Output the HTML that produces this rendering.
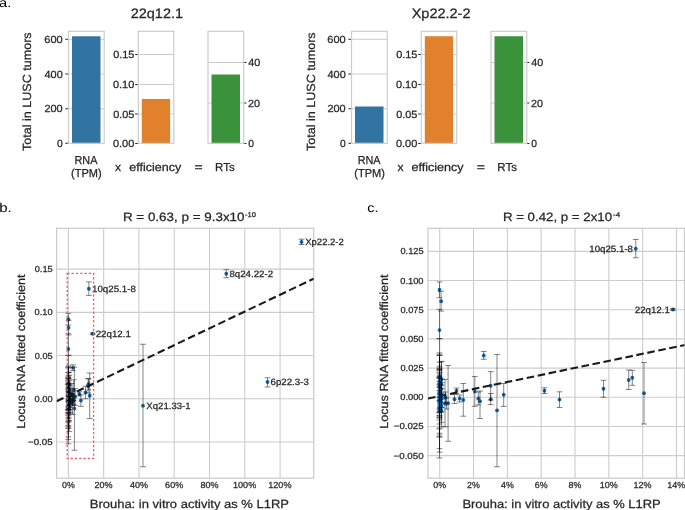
<!DOCTYPE html>
<html><head><meta charset="utf-8"><title>Figure</title>
<style>html,body{margin:0;padding:0;background:#fff;}body{width:685px;height:510px;overflow:hidden;font-family:"Liberation Sans",sans-serif;}svg{display:block;will-change:transform;}</style>
</head><body>
<svg width="685" height="510" viewBox="0 0 685 510" font-family="Liberation Sans, sans-serif" text-rendering="geometricPrecision"><text x="-0.92" y="6.80" font-size="12.71" fill="#000" stroke="#000" stroke-width="0" textLength="12.27" lengthAdjust="spacingAndGlyphs" >a.</text>
<text x="-0.77" y="211.90" font-size="12.71" fill="#000" stroke="#000" stroke-width="0" textLength="12.54" lengthAdjust="spacingAndGlyphs" >b.</text>
<text x="367.29" y="211.80" font-size="12.71" fill="#000" stroke="#000" stroke-width="0" textLength="11.23" lengthAdjust="spacingAndGlyphs" >c.</text>
<line x1="68.50" y1="39.30" x2="104.20" y2="39.30" stroke="#cccccc" stroke-width="1" />
<line x1="68.50" y1="74.00" x2="104.20" y2="74.00" stroke="#cccccc" stroke-width="1" />
<line x1="68.50" y1="108.75" x2="104.20" y2="108.75" stroke="#cccccc" stroke-width="1" />
<rect x="72.00" y="36.30" width="28.50" height="107.20" fill="#3274a1" />
<rect x="68.50" y="31.30" width="35.70" height="112.00" fill="none" stroke="#cccccc" stroke-width="1.2"/>
<line x1="65.40" y1="39.30" x2="67.90" y2="39.30" stroke="#262626" stroke-width="1" />
<text x="44.37" y="42.85" font-size="10.39" fill="#262626" stroke="#262626" stroke-width="0.25" textLength="18.36" lengthAdjust="spacingAndGlyphs" >600</text>
<line x1="65.40" y1="74.00" x2="67.90" y2="74.00" stroke="#262626" stroke-width="1" />
<text x="44.47" y="77.55" font-size="10.39" fill="#262626" stroke="#262626" stroke-width="0.25" textLength="18.25" lengthAdjust="spacingAndGlyphs" >400</text>
<line x1="65.40" y1="108.75" x2="67.90" y2="108.75" stroke="#262626" stroke-width="1" />
<text x="44.41" y="112.30" font-size="10.39" fill="#262626" stroke="#262626" stroke-width="0.25" textLength="18.32" lengthAdjust="spacingAndGlyphs" >200</text>
<line x1="65.40" y1="143.30" x2="67.90" y2="143.30" stroke="#262626" stroke-width="1" />
<text x="56.96" y="146.85" font-size="10.39" fill="#262626" stroke="#262626" stroke-width="0.25" textLength="5.75" lengthAdjust="spacingAndGlyphs" >0</text>
<line x1="138.30" y1="54.50" x2="173.80" y2="54.50" stroke="#cccccc" stroke-width="1" />
<line x1="138.30" y1="84.50" x2="173.80" y2="84.50" stroke="#cccccc" stroke-width="1" />
<line x1="138.30" y1="114.00" x2="173.80" y2="114.00" stroke="#cccccc" stroke-width="1" />
<rect x="141.80" y="99.00" width="28.30" height="44.50" fill="#e1812c" />
<rect x="138.30" y="31.30" width="35.50" height="112.00" fill="none" stroke="#cccccc" stroke-width="1.2"/>
<line x1="135.20" y1="54.50" x2="137.70" y2="54.50" stroke="#262626" stroke-width="1" />
<text x="113.16" y="58.05" font-size="10.39" fill="#262626" stroke="#262626" stroke-width="0.25" textLength="21.20" lengthAdjust="spacingAndGlyphs" >0.15</text>
<line x1="135.20" y1="84.50" x2="137.70" y2="84.50" stroke="#262626" stroke-width="1" />
<text x="112.95" y="88.05" font-size="10.39" fill="#262626" stroke="#262626" stroke-width="0.25" textLength="21.38" lengthAdjust="spacingAndGlyphs" >0.10</text>
<line x1="135.20" y1="114.00" x2="137.70" y2="114.00" stroke="#262626" stroke-width="1" />
<text x="113.16" y="117.55" font-size="10.39" fill="#262626" stroke="#262626" stroke-width="0.25" textLength="21.20" lengthAdjust="spacingAndGlyphs" >0.05</text>
<line x1="135.20" y1="143.50" x2="137.70" y2="143.50" stroke="#262626" stroke-width="1" />
<text x="112.95" y="147.05" font-size="10.39" fill="#262626" stroke="#262626" stroke-width="0.25" textLength="21.38" lengthAdjust="spacingAndGlyphs" >0.00</text>
<line x1="208.00" y1="62.50" x2="243.70" y2="62.50" stroke="#cccccc" stroke-width="1" />
<line x1="208.00" y1="103.00" x2="243.70" y2="103.00" stroke="#cccccc" stroke-width="1" />
<rect x="211.50" y="74.50" width="28.50" height="69.00" fill="#3a923a" />
<rect x="208.00" y="31.30" width="35.70" height="112.00" fill="none" stroke="#cccccc" stroke-width="1.2"/>
<line x1="244.30" y1="62.50" x2="246.40" y2="62.50" stroke="#262626" stroke-width="1" />
<text x="248.35" y="66.05" font-size="10.39" fill="#262626" stroke="#262626" stroke-width="0.25" textLength="12.01" lengthAdjust="spacingAndGlyphs" >40</text>
<line x1="244.30" y1="103.00" x2="246.40" y2="103.00" stroke="#262626" stroke-width="1" />
<text x="248.05" y="106.55" font-size="10.39" fill="#262626" stroke="#262626" stroke-width="0.25" textLength="12.07" lengthAdjust="spacingAndGlyphs" >20</text>
<line x1="244.30" y1="143.50" x2="246.40" y2="143.50" stroke="#262626" stroke-width="1" />
<text x="248.20" y="147.05" font-size="10.39" fill="#262626" stroke="#262626" stroke-width="0.25" textLength="5.75" lengthAdjust="spacingAndGlyphs" >0</text>
<text x="31.00" y="151.08" font-size="11.87" fill="#262626" stroke="#262626" stroke-width="0.25" textLength="118.73" lengthAdjust="spacingAndGlyphs" transform="rotate(-90 31.00 151.08)" >Total in LUSC tumors</text>
<line x1="351.50" y1="39.30" x2="387.20" y2="39.30" stroke="#cccccc" stroke-width="1" />
<line x1="351.50" y1="74.00" x2="387.20" y2="74.00" stroke="#cccccc" stroke-width="1" />
<line x1="351.50" y1="108.75" x2="387.20" y2="108.75" stroke="#cccccc" stroke-width="1" />
<rect x="355.00" y="106.50" width="28.50" height="37.00" fill="#3274a1" />
<rect x="351.50" y="31.30" width="35.70" height="112.00" fill="none" stroke="#cccccc" stroke-width="1.2"/>
<line x1="348.40" y1="39.30" x2="350.90" y2="39.30" stroke="#262626" stroke-width="1" />
<text x="327.37" y="42.85" font-size="10.39" fill="#262626" stroke="#262626" stroke-width="0.25" textLength="18.36" lengthAdjust="spacingAndGlyphs" >600</text>
<line x1="348.40" y1="74.00" x2="350.90" y2="74.00" stroke="#262626" stroke-width="1" />
<text x="327.47" y="77.55" font-size="10.39" fill="#262626" stroke="#262626" stroke-width="0.25" textLength="18.25" lengthAdjust="spacingAndGlyphs" >400</text>
<line x1="348.40" y1="108.75" x2="350.90" y2="108.75" stroke="#262626" stroke-width="1" />
<text x="327.41" y="112.30" font-size="10.39" fill="#262626" stroke="#262626" stroke-width="0.25" textLength="18.32" lengthAdjust="spacingAndGlyphs" >200</text>
<line x1="348.40" y1="143.30" x2="350.90" y2="143.30" stroke="#262626" stroke-width="1" />
<text x="339.96" y="146.85" font-size="10.39" fill="#262626" stroke="#262626" stroke-width="0.25" textLength="5.75" lengthAdjust="spacingAndGlyphs" >0</text>
<line x1="421.30" y1="54.50" x2="456.80" y2="54.50" stroke="#cccccc" stroke-width="1" />
<line x1="421.30" y1="84.50" x2="456.80" y2="84.50" stroke="#cccccc" stroke-width="1" />
<line x1="421.30" y1="114.00" x2="456.80" y2="114.00" stroke="#cccccc" stroke-width="1" />
<rect x="424.80" y="36.25" width="28.30" height="107.25" fill="#e1812c" />
<rect x="421.30" y="31.30" width="35.50" height="112.00" fill="none" stroke="#cccccc" stroke-width="1.2"/>
<line x1="418.20" y1="54.50" x2="420.70" y2="54.50" stroke="#262626" stroke-width="1" />
<text x="396.16" y="58.05" font-size="10.39" fill="#262626" stroke="#262626" stroke-width="0.25" textLength="21.20" lengthAdjust="spacingAndGlyphs" >0.15</text>
<line x1="418.20" y1="84.50" x2="420.70" y2="84.50" stroke="#262626" stroke-width="1" />
<text x="395.95" y="88.05" font-size="10.39" fill="#262626" stroke="#262626" stroke-width="0.25" textLength="21.38" lengthAdjust="spacingAndGlyphs" >0.10</text>
<line x1="418.20" y1="114.00" x2="420.70" y2="114.00" stroke="#262626" stroke-width="1" />
<text x="396.16" y="117.55" font-size="10.39" fill="#262626" stroke="#262626" stroke-width="0.25" textLength="21.20" lengthAdjust="spacingAndGlyphs" >0.05</text>
<line x1="418.20" y1="143.50" x2="420.70" y2="143.50" stroke="#262626" stroke-width="1" />
<text x="395.95" y="147.05" font-size="10.39" fill="#262626" stroke="#262626" stroke-width="0.25" textLength="21.38" lengthAdjust="spacingAndGlyphs" >0.00</text>
<line x1="491.00" y1="62.50" x2="526.70" y2="62.50" stroke="#cccccc" stroke-width="1" />
<line x1="491.00" y1="103.00" x2="526.70" y2="103.00" stroke="#cccccc" stroke-width="1" />
<rect x="494.50" y="36.25" width="28.50" height="107.25" fill="#3a923a" />
<rect x="491.00" y="31.30" width="35.70" height="112.00" fill="none" stroke="#cccccc" stroke-width="1.2"/>
<line x1="527.30" y1="62.50" x2="529.40" y2="62.50" stroke="#262626" stroke-width="1" />
<text x="531.35" y="66.05" font-size="10.39" fill="#262626" stroke="#262626" stroke-width="0.25" textLength="12.01" lengthAdjust="spacingAndGlyphs" >40</text>
<line x1="527.30" y1="103.00" x2="529.40" y2="103.00" stroke="#262626" stroke-width="1" />
<text x="531.05" y="106.55" font-size="10.39" fill="#262626" stroke="#262626" stroke-width="0.25" textLength="12.07" lengthAdjust="spacingAndGlyphs" >20</text>
<line x1="527.30" y1="143.50" x2="529.40" y2="143.50" stroke="#262626" stroke-width="1" />
<text x="531.20" y="147.05" font-size="10.39" fill="#262626" stroke="#262626" stroke-width="0.25" textLength="5.75" lengthAdjust="spacingAndGlyphs" >0</text>
<text x="315.30" y="151.08" font-size="11.87" fill="#262626" stroke="#262626" stroke-width="0.25" textLength="118.73" lengthAdjust="spacingAndGlyphs" transform="rotate(-90 315.30 151.08)" >Total in LUSC tumors</text>
<text x="130.77" y="18.00" font-size="13.67" fill="#262626" stroke="#262626" stroke-width="0.25" textLength="52.23" lengthAdjust="spacingAndGlyphs" >22q12.1</text>
<text x="411.67" y="18.00" font-size="13.67" fill="#262626" stroke="#262626" stroke-width="0.25" textLength="58.86" lengthAdjust="spacingAndGlyphs" >Xp22.2-2</text>
<text x="74.50" y="163.80" font-size="11.55" fill="#262626" stroke="#262626" stroke-width="0.25" textLength="22.94" lengthAdjust="spacingAndGlyphs" >RNA</text>
<text x="71.08" y="177.00" font-size="11.55" fill="#262626" stroke="#262626" stroke-width="0.25" textLength="30.64" lengthAdjust="spacingAndGlyphs" >(TPM)</text>
<text x="115.06" y="171.00" font-size="11.55" fill="#262626" stroke="#262626" stroke-width="0.25" textLength="6.05" lengthAdjust="spacingAndGlyphs" >x</text>
<text x="129.17" y="171.00" font-size="11.55" fill="#262626" stroke="#262626" stroke-width="0.25" textLength="52.12" lengthAdjust="spacingAndGlyphs" >efficiency</text>
<text x="194.51" y="171.00" font-size="11.55" fill="#262626" stroke="#262626" stroke-width="0.25" textLength="8.20" lengthAdjust="spacingAndGlyphs" >=</text>
<text x="215.12" y="171.00" font-size="11.55" fill="#262626" stroke="#262626" stroke-width="0.25" textLength="19.57" lengthAdjust="spacingAndGlyphs" >RTs</text>
<text x="357.70" y="163.80" font-size="11.55" fill="#262626" stroke="#262626" stroke-width="0.25" textLength="22.94" lengthAdjust="spacingAndGlyphs" >RNA</text>
<text x="354.28" y="177.00" font-size="11.55" fill="#262626" stroke="#262626" stroke-width="0.25" textLength="30.64" lengthAdjust="spacingAndGlyphs" >(TPM)</text>
<text x="397.56" y="171.00" font-size="11.55" fill="#262626" stroke="#262626" stroke-width="0.25" textLength="6.05" lengthAdjust="spacingAndGlyphs" >x</text>
<text x="411.47" y="171.00" font-size="11.55" fill="#262626" stroke="#262626" stroke-width="0.25" textLength="52.12" lengthAdjust="spacingAndGlyphs" >efficiency</text>
<text x="476.71" y="171.00" font-size="11.55" fill="#262626" stroke="#262626" stroke-width="0.25" textLength="8.20" lengthAdjust="spacingAndGlyphs" >=</text>
<text x="497.32" y="171.00" font-size="11.55" fill="#262626" stroke="#262626" stroke-width="0.25" textLength="19.57" lengthAdjust="spacingAndGlyphs" >RTs</text>
<clipPath id="clipb"><rect x="56.6" y="228.3" width="257.09999999999997" height="249.89999999999998"/></clipPath>
<line x1="68.40" y1="228.30" x2="68.40" y2="478.20" stroke="#cccccc" stroke-width="1.1" />
<text x="62.01" y="488.40" font-size="8.75" fill="#262626" stroke="#262626" stroke-width="0.25" textLength="12.75" lengthAdjust="spacingAndGlyphs" >0%</text>
<line x1="103.68" y1="228.30" x2="103.68" y2="478.20" stroke="#cccccc" stroke-width="1.1" />
<text x="94.59" y="488.40" font-size="8.75" fill="#262626" stroke="#262626" stroke-width="0.25" textLength="18.05" lengthAdjust="spacingAndGlyphs" >20%</text>
<line x1="138.96" y1="228.30" x2="138.96" y2="478.20" stroke="#cccccc" stroke-width="1.1" />
<text x="130.01" y="488.40" font-size="8.75" fill="#262626" stroke="#262626" stroke-width="0.25" textLength="18.01" lengthAdjust="spacingAndGlyphs" >40%</text>
<line x1="174.24" y1="228.30" x2="174.24" y2="478.20" stroke="#cccccc" stroke-width="1.1" />
<text x="165.13" y="488.40" font-size="8.75" fill="#262626" stroke="#262626" stroke-width="0.25" textLength="18.09" lengthAdjust="spacingAndGlyphs" >60%</text>
<line x1="209.52" y1="228.30" x2="209.52" y2="478.20" stroke="#cccccc" stroke-width="1.1" />
<text x="200.47" y="488.40" font-size="8.75" fill="#262626" stroke="#262626" stroke-width="0.25" textLength="18.03" lengthAdjust="spacingAndGlyphs" >80%</text>
<line x1="244.80" y1="228.30" x2="244.80" y2="478.20" stroke="#cccccc" stroke-width="1.1" />
<text x="233.00" y="488.40" font-size="8.75" fill="#262626" stroke="#262626" stroke-width="0.25" textLength="23.24" lengthAdjust="spacingAndGlyphs" >100%</text>
<line x1="280.08" y1="228.30" x2="280.08" y2="478.20" stroke="#cccccc" stroke-width="1.1" />
<text x="268.28" y="488.40" font-size="8.75" fill="#262626" stroke="#262626" stroke-width="0.25" textLength="23.24" lengthAdjust="spacingAndGlyphs" >120%</text>
<line x1="56.60" y1="442.03" x2="313.70" y2="442.03" stroke="#cccccc" stroke-width="1.1" />
<text x="28.03" y="445.03" font-size="8.75" fill="#262626" stroke="#262626" stroke-width="0.25" textLength="24.57" lengthAdjust="spacingAndGlyphs" >−0.05</text>
<line x1="56.60" y1="398.80" x2="313.70" y2="398.80" stroke="#cccccc" stroke-width="1.1" />
<text x="34.56" y="401.80" font-size="8.75" fill="#262626" stroke="#262626" stroke-width="0.25" textLength="18.00" lengthAdjust="spacingAndGlyphs" >0.00</text>
<line x1="56.60" y1="355.57" x2="313.70" y2="355.57" stroke="#cccccc" stroke-width="1.1" />
<text x="34.74" y="358.57" font-size="8.75" fill="#262626" stroke="#262626" stroke-width="0.25" textLength="17.85" lengthAdjust="spacingAndGlyphs" >0.05</text>
<line x1="56.60" y1="312.34" x2="313.70" y2="312.34" stroke="#cccccc" stroke-width="1.1" />
<text x="34.56" y="315.34" font-size="8.75" fill="#262626" stroke="#262626" stroke-width="0.25" textLength="18.00" lengthAdjust="spacingAndGlyphs" >0.10</text>
<line x1="56.60" y1="269.11" x2="313.70" y2="269.11" stroke="#cccccc" stroke-width="1.1" />
<text x="34.74" y="272.11" font-size="8.75" fill="#262626" stroke="#262626" stroke-width="0.25" textLength="17.85" lengthAdjust="spacingAndGlyphs" >0.15</text>
<rect x="56.6" y="228.3" width="257.09999999999997" height="249.89999999999998" fill="none" stroke="#cccccc" stroke-width="1.25"/>
<g clip-path="url(#clipb)">
<circle cx="68.38" cy="319.18" r="1.95" fill="#1f6fb0"/>
<circle cx="68.55" cy="327.70" r="1.95" fill="#1f6fb0"/>
<circle cx="68.38" cy="349.04" r="1.95" fill="#1f6fb0"/>
<circle cx="72.99" cy="367.85" r="1.95" fill="#1f6fb0"/>
<circle cx="70.15" cy="394.00" r="1.95" fill="#1f6fb0"/>
<circle cx="69.94" cy="400.22" r="1.95" fill="#1f6fb0"/>
<circle cx="70.49" cy="399.70" r="1.95" fill="#1f6fb0"/>
<circle cx="70.86" cy="400.74" r="1.95" fill="#1f6fb0"/>
<circle cx="72.06" cy="394.52" r="1.95" fill="#1f6fb0"/>
<circle cx="72.43" cy="399.70" r="1.95" fill="#1f6fb0"/>
<circle cx="72.60" cy="401.70" r="1.95" fill="#1f6fb0"/>
<circle cx="73.72" cy="390.30" r="1.95" fill="#1f6fb0"/>
<circle cx="73.72" cy="400.30" r="1.95" fill="#1f6fb0"/>
<circle cx="74.38" cy="408.52" r="1.95" fill="#1f6fb0"/>
<circle cx="75.07" cy="396.89" r="1.95" fill="#1f6fb0"/>
<circle cx="79.32" cy="393.93" r="1.95" fill="#1f6fb0"/>
<circle cx="80.89" cy="400.52" r="1.95" fill="#1f6fb0"/>
<circle cx="85.48" cy="392.52" r="1.95" fill="#1f6fb0"/>
<circle cx="88.11" cy="386.00" r="1.95" fill="#1f6fb0"/>
<circle cx="88.49" cy="384.30" r="1.95" fill="#1f6fb0"/>
<circle cx="89.71" cy="395.81" r="1.95" fill="#1f6fb0"/>
<circle cx="88.85" cy="288.78" r="1.95" fill="#1f6fb0"/>
<circle cx="92.73" cy="333.78" r="1.95" fill="#1f6fb0"/>
<circle cx="68.95" cy="403.41" r="1.95" fill="#1f6fb0"/>
<circle cx="69.28" cy="403.26" r="1.95" fill="#1f6fb0"/>
<circle cx="69.11" cy="403.48" r="1.95" fill="#1f6fb0"/>
<circle cx="69.00" cy="398.96" r="1.95" fill="#1f6fb0"/>
<circle cx="301.50" cy="242.00" r="1.95" fill="#1f6fb0"/>
<circle cx="226.30" cy="273.70" r="1.95" fill="#1f6fb0"/>
<circle cx="267.50" cy="382.00" r="1.95" fill="#1f6fb0"/>
<circle cx="143.00" cy="405.75" r="1.95" fill="#1f6fb0"/>
<circle cx="68.38" cy="383.24" r="1.95" fill="#1f6fb0"/>
<circle cx="68.38" cy="384.53" r="1.95" fill="#1f6fb0"/>
<circle cx="68.38" cy="388.42" r="1.95" fill="#1f6fb0"/>
<circle cx="68.38" cy="391.36" r="1.95" fill="#1f6fb0"/>
<circle cx="68.38" cy="393.61" r="1.95" fill="#1f6fb0"/>
<circle cx="68.38" cy="395.34" r="1.95" fill="#1f6fb0"/>
<circle cx="68.38" cy="396.21" r="1.95" fill="#1f6fb0"/>
<circle cx="68.38" cy="397.07" r="1.95" fill="#1f6fb0"/>
<circle cx="68.38" cy="397.94" r="1.95" fill="#1f6fb0"/>
<circle cx="68.38" cy="398.80" r="1.95" fill="#1f6fb0"/>
<circle cx="68.38" cy="399.66" r="1.95" fill="#1f6fb0"/>
<circle cx="68.38" cy="400.53" r="1.95" fill="#1f6fb0"/>
<circle cx="68.38" cy="401.39" r="1.95" fill="#1f6fb0"/>
<circle cx="68.38" cy="402.26" r="1.95" fill="#1f6fb0"/>
<circle cx="68.38" cy="403.12" r="1.95" fill="#1f6fb0"/>
<circle cx="68.38" cy="403.99" r="1.95" fill="#1f6fb0"/>
<circle cx="68.38" cy="405.72" r="1.95" fill="#1f6fb0"/>
<circle cx="68.38" cy="406.32" r="1.95" fill="#1f6fb0"/>
<circle cx="68.38" cy="407.45" r="1.95" fill="#1f6fb0"/>
<circle cx="68.38" cy="409.18" r="1.95" fill="#1f6fb0"/>
<circle cx="68.38" cy="390.15" r="1.95" fill="#1f6fb0"/>
<circle cx="68.38" cy="386.70" r="1.95" fill="#1f6fb0"/>
<circle cx="68.58" cy="385.83" r="1.95" fill="#1f6fb0"/>
<circle cx="68.58" cy="392.75" r="1.95" fill="#1f6fb0"/>
<circle cx="68.58" cy="397.07" r="1.95" fill="#1f6fb0"/>
<circle cx="68.58" cy="399.66" r="1.95" fill="#1f6fb0"/>
<circle cx="68.58" cy="402.26" r="1.95" fill="#1f6fb0"/>
<circle cx="68.58" cy="404.85" r="1.95" fill="#1f6fb0"/>
<circle cx="68.58" cy="408.31" r="1.95" fill="#1f6fb0"/>
<circle cx="68.58" cy="389.29" r="1.95" fill="#1f6fb0"/>
<circle cx="68.38" cy="395.34" r="1.95" fill="#1f6fb0"/>
<circle cx="68.38" cy="403.12" r="1.95" fill="#1f6fb0"/>
<circle cx="68.38" cy="400.53" r="1.95" fill="#1f6fb0"/>
<path d="M68.38 313.33V325.04M65.48 313.33H71.28M65.48 325.04H71.28" stroke="rgba(0,0,0,0.48)" stroke-width="1" fill="none"/>
<path d="M68.55 320.30V334.96M65.65 320.30H71.45M65.65 334.96H71.45" stroke="rgba(0,0,0,0.48)" stroke-width="1" fill="none"/>
<path d="M68.38 333.63V355.26M65.48 333.63H71.28M65.48 355.26H71.28" stroke="rgba(0,0,0,0.48)" stroke-width="1" fill="none"/>
<path d="M72.99 364.89V370.67M70.09 364.89H75.89M70.09 370.67H75.89" stroke="rgba(0,0,0,0.48)" stroke-width="1" fill="none"/>
<path d="M70.15 391.93V396.00M67.25 391.93H73.05M67.25 396.00H73.05" stroke="rgba(0,0,0,0.48)" stroke-width="1" fill="none"/>
<path d="M69.94 396.74V403.41M67.04 396.74H72.84M67.04 403.41H72.84" stroke="rgba(0,0,0,0.48)" stroke-width="1" fill="none"/>
<path d="M70.49 397.11V402.30M67.59 397.11H73.39M67.59 402.30H73.39" stroke="rgba(0,0,0,0.48)" stroke-width="1" fill="none"/>
<path d="M70.86 388.59V412.81M67.96 388.59H73.76M67.96 412.81H73.76" stroke="rgba(0,0,0,0.48)" stroke-width="1" fill="none"/>
<path d="M72.06 383.41V405.48M69.16 383.41H74.96M69.16 405.48H74.96" stroke="rgba(0,0,0,0.48)" stroke-width="1" fill="none"/>
<path d="M72.43 394.89V404.52M69.53 394.89H75.33M69.53 404.52H75.33" stroke="rgba(0,0,0,0.48)" stroke-width="1" fill="none"/>
<path d="M72.60 394.15V414.52M69.70 394.15H75.50M69.70 414.52H75.50" stroke="rgba(0,0,0,0.48)" stroke-width="1" fill="none"/>
<path d="M73.72 379.78V400.81M70.82 379.78H76.62M70.82 400.81H76.62" stroke="rgba(0,0,0,0.48)" stroke-width="1" fill="none"/>
<path d="M73.72 396.00V404.22M70.82 396.00H76.62M70.82 404.22H76.62" stroke="rgba(0,0,0,0.48)" stroke-width="1" fill="none"/>
<path d="M74.38 367.11V450.26M71.48 367.11H77.28M71.48 450.26H77.28" stroke="rgba(0,0,0,0.48)" stroke-width="1" fill="none"/>
<path d="M75.07 388.59V405.56M72.17 388.59H77.97M72.17 405.56H77.97" stroke="rgba(0,0,0,0.48)" stroke-width="1" fill="none"/>
<path d="M79.32 391.78V396.00M76.42 391.78H82.22M76.42 396.00H82.22" stroke="rgba(0,0,0,0.48)" stroke-width="1" fill="none"/>
<path d="M80.89 394.74V406.37M77.99 394.74H83.79M77.99 406.37H83.79" stroke="rgba(0,0,0,0.48)" stroke-width="1" fill="none"/>
<path d="M85.48 386.22V398.78M82.58 386.22H88.38M82.58 398.78H88.38" stroke="rgba(0,0,0,0.48)" stroke-width="1" fill="none"/>
<path d="M88.11 378.59V393.04M85.21 378.59H91.01M85.21 393.04H91.01" stroke="rgba(0,0,0,0.48)" stroke-width="1" fill="none"/>
<path d="M88.49 378.81V389.93M85.59 378.81H91.39M85.59 389.93H91.39" stroke="rgba(0,0,0,0.48)" stroke-width="1" fill="none"/>
<path d="M89.71 373.04V418.59M86.81 373.04H92.61M86.81 418.59H92.61" stroke="rgba(0,0,0,0.48)" stroke-width="1" fill="none"/>
<path d="M88.85 281.92V295.44M85.95 281.92H91.75M85.95 295.44H91.75" stroke="rgba(0,0,0,0.48)" stroke-width="1" fill="none"/>
<path d="M92.73 333.11V334.44M89.83 333.11H95.63M89.83 334.44H95.63" stroke="rgba(0,0,0,0.48)" stroke-width="1" fill="none"/>
<path d="M68.95 385.56V420.67M66.05 385.56H71.85M66.05 420.67H71.85" stroke="rgba(0,0,0,0.48)" stroke-width="1" fill="none"/>
<path d="M69.28 375.26V431.41M66.38 375.26H72.18M66.38 431.41H72.18" stroke="rgba(0,0,0,0.48)" stroke-width="1" fill="none"/>
<path d="M69.11 399.33V407.48M66.21 399.33H72.01M66.21 407.48H72.01" stroke="rgba(0,0,0,0.48)" stroke-width="1" fill="none"/>
<path d="M69.00 394.89V403.04M66.10 394.89H71.90M66.10 403.04H71.90" stroke="rgba(0,0,0,0.48)" stroke-width="1" fill="none"/>
<path d="M301.50 239.20V244.50M298.60 239.20H304.40M298.60 244.50H304.40" stroke="rgba(0,0,0,0.48)" stroke-width="1" fill="none"/>
<path d="M226.30 269.70V277.70M223.40 269.70H229.20M223.40 277.70H229.20" stroke="rgba(0,0,0,0.48)" stroke-width="1" fill="none"/>
<path d="M267.50 377.75V387.00M264.60 377.75H270.40M264.60 387.00H270.40" stroke="rgba(0,0,0,0.48)" stroke-width="1" fill="none"/>
<path d="M143.00 344.25V466.75M140.10 344.25H145.90M140.10 466.75H145.90" stroke="rgba(0,0,0,0.48)" stroke-width="1" fill="none"/>
<path d="M68.38 367.86V398.61M65.48 367.86H71.28M65.48 398.61H71.28" stroke="rgba(0,0,0,0.48)" stroke-width="1" fill="none"/>
<path d="M68.38 367.76V401.30M65.48 367.76H71.28M65.48 401.30H71.28" stroke="rgba(0,0,0,0.48)" stroke-width="1" fill="none"/>
<path d="M68.38 366.93V409.92M65.48 366.93H71.28M65.48 409.92H71.28" stroke="rgba(0,0,0,0.48)" stroke-width="1" fill="none"/>
<path d="M68.38 375.81V406.91M65.48 375.81H71.28M65.48 406.91H71.28" stroke="rgba(0,0,0,0.48)" stroke-width="1" fill="none"/>
<path d="M68.38 377.52V409.71M65.48 377.52H71.28M65.48 409.71H71.28" stroke="rgba(0,0,0,0.48)" stroke-width="1" fill="none"/>
<path d="M68.38 378.21V412.47M65.48 378.21H71.28M65.48 412.47H71.28" stroke="rgba(0,0,0,0.48)" stroke-width="1" fill="none"/>
<path d="M68.38 384.30V408.11M65.48 384.30H71.28M65.48 408.11H71.28" stroke="rgba(0,0,0,0.48)" stroke-width="1" fill="none"/>
<path d="M68.38 380.92V413.22M65.48 380.92H71.28M65.48 413.22H71.28" stroke="rgba(0,0,0,0.48)" stroke-width="1" fill="none"/>
<path d="M68.38 380.26V415.61M65.48 380.26H71.28M65.48 415.61H71.28" stroke="rgba(0,0,0,0.48)" stroke-width="1" fill="none"/>
<path d="M68.38 379.01V418.59M65.48 379.01H71.28M65.48 418.59H71.28" stroke="rgba(0,0,0,0.48)" stroke-width="1" fill="none"/>
<path d="M68.38 388.93V410.40M65.48 388.93H71.28M65.48 410.40H71.28" stroke="rgba(0,0,0,0.48)" stroke-width="1" fill="none"/>
<path d="M68.38 387.08V413.97M65.48 387.08H71.28M65.48 413.97H71.28" stroke="rgba(0,0,0,0.48)" stroke-width="1" fill="none"/>
<path d="M68.38 390.71V412.08M65.48 390.71H71.28M65.48 412.08H71.28" stroke="rgba(0,0,0,0.48)" stroke-width="1" fill="none"/>
<path d="M68.38 382.25V422.27M65.48 382.25H71.28M65.48 422.27H71.28" stroke="rgba(0,0,0,0.48)" stroke-width="1" fill="none"/>
<path d="M68.38 384.62V421.63M65.48 384.62H71.28M65.48 421.63H71.28" stroke="rgba(0,0,0,0.48)" stroke-width="1" fill="none"/>
<path d="M68.38 393.93V414.04M65.48 393.93H71.28M65.48 414.04H71.28" stroke="rgba(0,0,0,0.48)" stroke-width="1" fill="none"/>
<path d="M68.38 383.47V427.97M65.48 383.47H71.28M65.48 427.97H71.28" stroke="rgba(0,0,0,0.48)" stroke-width="1" fill="none"/>
<path d="M68.38 384.30V428.34M65.48 384.30H71.28M65.48 428.34H71.28" stroke="rgba(0,0,0,0.48)" stroke-width="1" fill="none"/>
<path d="M68.38 389.45V425.44M65.48 389.45H71.28M65.48 425.44H71.28" stroke="rgba(0,0,0,0.48)" stroke-width="1" fill="none"/>
<path d="M68.38 391.68V426.67M65.48 391.68H71.28M65.48 426.67H71.28" stroke="rgba(0,0,0,0.48)" stroke-width="1" fill="none"/>
<path d="M68.38 378.60V401.71M65.48 378.60H71.28M65.48 401.71H71.28" stroke="rgba(0,0,0,0.48)" stroke-width="1" fill="none"/>
<path d="M68.38 376.99V396.40M65.48 376.99H71.28M65.48 396.40H71.28" stroke="rgba(0,0,0,0.48)" stroke-width="1" fill="none"/>
<path d="M68.58 372.52V399.14M65.68 372.52H71.48M65.68 399.14H71.48" stroke="rgba(0,0,0,0.48)" stroke-width="1" fill="none"/>
<path d="M68.58 385.11V400.39M65.68 385.11H71.48M65.68 400.39H71.48" stroke="rgba(0,0,0,0.48)" stroke-width="1" fill="none"/>
<path d="M68.58 387.85V406.29M65.68 387.85H71.48M65.68 406.29H71.48" stroke="rgba(0,0,0,0.48)" stroke-width="1" fill="none"/>
<path d="M68.58 389.82V409.51M65.68 389.82H71.48M65.68 409.51H71.48" stroke="rgba(0,0,0,0.48)" stroke-width="1" fill="none"/>
<path d="M68.58 394.98V409.54M65.68 394.98H71.48M65.68 409.54H71.48" stroke="rgba(0,0,0,0.48)" stroke-width="1" fill="none"/>
<path d="M68.58 392.32V417.38M65.68 392.32H71.48M65.68 417.38H71.48" stroke="rgba(0,0,0,0.48)" stroke-width="1" fill="none"/>
<path d="M68.58 396.06V420.56M65.68 396.06H71.48M65.68 420.56H71.48" stroke="rgba(0,0,0,0.48)" stroke-width="1" fill="none"/>
<path d="M68.58 372.18V406.40M65.68 372.18H71.48M65.68 406.40H71.48" stroke="rgba(0,0,0,0.48)" stroke-width="1" fill="none"/>
<path d="M68.38 365.95V443.76M65.48 365.95H71.28M65.48 443.76H71.28" stroke="rgba(0,0,0,0.48)" stroke-width="1" fill="none"/>
<path d="M68.38 355.57V439.44M65.48 355.57H71.28M65.48 439.44H71.28" stroke="rgba(0,0,0,0.48)" stroke-width="1" fill="none"/>
<path d="M68.38 372.86V436.84M65.48 372.86H71.28M65.48 436.84H71.28" stroke="rgba(0,0,0,0.48)" stroke-width="1" fill="none"/>
<line x1="56.6" y1="401.2" x2="313.7" y2="278.7" stroke="#1a1a1a" stroke-width="2.1" stroke-dasharray="7.6 3.6"/>
</g>
<text x="92.06" y="291.80" font-size="9.12" fill="#262626" stroke="#262626" stroke-width="0.25" textLength="43.75" lengthAdjust="spacingAndGlyphs" >10q25.1-8</text>
<text x="95.71" y="336.60" font-size="9.12" fill="#262626" stroke="#262626" stroke-width="0.25" textLength="35.09" lengthAdjust="spacingAndGlyphs" >22q12.1</text>
<text x="229.48" y="276.80" font-size="9.12" fill="#262626" stroke="#262626" stroke-width="0.25" textLength="43.59" lengthAdjust="spacingAndGlyphs" >8q24.22-2</text>
<text x="305.19" y="245.10" font-size="9.12" fill="#262626" stroke="#262626" stroke-width="0.25" textLength="38.65" lengthAdjust="spacingAndGlyphs" >Xp22.2-2</text>
<text x="270.51" y="385.10" font-size="9.12" fill="#262626" stroke="#262626" stroke-width="0.25" textLength="38.28" lengthAdjust="spacingAndGlyphs" >6p22.3-3</text>
<text x="146.38" y="408.90" font-size="9.12" fill="#262626" stroke="#262626" stroke-width="0.25" textLength="44.18" lengthAdjust="spacingAndGlyphs" >Xq21.33-1</text>
<rect x="67.2" y="273.4" width="26.4" height="185.1" fill="none" stroke="#f0606c" stroke-width="1.3" stroke-dasharray="2.4 1.9"/>
<text x="122.90" y="221.00" font-size="12.04" fill="#262626" stroke="#262626" stroke-width="0.25" textLength="121.63" lengthAdjust="spacingAndGlyphs" >R = 0.63, p = 9.3x10</text>
<text x="245.07" y="216.80" font-size="6.89" fill="#262626" stroke="#262626" stroke-width="0.25" textLength="10.83" lengthAdjust="spacingAndGlyphs" >-10</text>
<text x="89.73" y="507.50" font-size="11.87" fill="#262626" stroke="#262626" stroke-width="0.25" textLength="199.25" lengthAdjust="spacingAndGlyphs" >Brouha: in vitro activity as % L1RP</text>
<text x="25.30" y="428.83" font-size="11.73" fill="#262626" stroke="#262626" stroke-width="0.25" textLength="154.42" lengthAdjust="spacingAndGlyphs" transform="rotate(-90 25.30 428.83)" >Locus RNA fitted coefficient</text>
<clipPath id="clipc"><rect x="428" y="228.3" width="256.5" height="249.89999999999998"/></clipPath>
<line x1="439.70" y1="228.30" x2="439.70" y2="478.20" stroke="#cccccc" stroke-width="1.1" />
<text x="433.31" y="488.40" font-size="8.75" fill="#262626" stroke="#262626" stroke-width="0.25" textLength="12.75" lengthAdjust="spacingAndGlyphs" >0%</text>
<line x1="473.53" y1="228.30" x2="473.53" y2="478.20" stroke="#cccccc" stroke-width="1.1" />
<text x="467.07" y="488.40" font-size="8.75" fill="#262626" stroke="#262626" stroke-width="0.25" textLength="12.79" lengthAdjust="spacingAndGlyphs" >2%</text>
<line x1="507.36" y1="228.30" x2="507.36" y2="478.20" stroke="#cccccc" stroke-width="1.1" />
<text x="501.04" y="488.40" font-size="8.75" fill="#262626" stroke="#262626" stroke-width="0.25" textLength="12.75" lengthAdjust="spacingAndGlyphs" >4%</text>
<line x1="541.18" y1="228.30" x2="541.18" y2="478.20" stroke="#cccccc" stroke-width="1.1" />
<text x="534.71" y="488.40" font-size="8.75" fill="#262626" stroke="#262626" stroke-width="0.25" textLength="12.82" lengthAdjust="spacingAndGlyphs" >6%</text>
<line x1="575.01" y1="228.30" x2="575.01" y2="478.20" stroke="#cccccc" stroke-width="1.1" />
<text x="568.59" y="488.40" font-size="8.75" fill="#262626" stroke="#262626" stroke-width="0.25" textLength="12.77" lengthAdjust="spacingAndGlyphs" >8%</text>
<line x1="608.84" y1="228.30" x2="608.84" y2="478.20" stroke="#cccccc" stroke-width="1.1" />
<text x="599.67" y="488.40" font-size="8.75" fill="#262626" stroke="#262626" stroke-width="0.25" textLength="17.98" lengthAdjust="spacingAndGlyphs" >10%</text>
<line x1="642.67" y1="228.30" x2="642.67" y2="478.20" stroke="#cccccc" stroke-width="1.1" />
<text x="633.50" y="488.40" font-size="8.75" fill="#262626" stroke="#262626" stroke-width="0.25" textLength="17.98" lengthAdjust="spacingAndGlyphs" >12%</text>
<line x1="676.50" y1="228.30" x2="676.50" y2="478.20" stroke="#cccccc" stroke-width="1.1" />
<text x="667.32" y="488.40" font-size="8.75" fill="#262626" stroke="#262626" stroke-width="0.25" textLength="17.98" lengthAdjust="spacingAndGlyphs" >14%</text>
<line x1="428.00" y1="455.64" x2="684.50" y2="455.64" stroke="#cccccc" stroke-width="1.1" />
<text x="393.61" y="458.64" font-size="8.75" fill="#262626" stroke="#262626" stroke-width="0.25" textLength="29.97" lengthAdjust="spacingAndGlyphs" >−0.050</text>
<line x1="428.00" y1="426.46" x2="684.50" y2="426.46" stroke="#cccccc" stroke-width="1.1" />
<text x="393.79" y="429.46" font-size="8.75" fill="#262626" stroke="#262626" stroke-width="0.25" textLength="29.82" lengthAdjust="spacingAndGlyphs" >−0.025</text>
<line x1="428.00" y1="397.28" x2="684.50" y2="397.28" stroke="#cccccc" stroke-width="1.1" />
<text x="400.31" y="400.28" font-size="8.75" fill="#262626" stroke="#262626" stroke-width="0.25" textLength="23.25" lengthAdjust="spacingAndGlyphs" >0.000</text>
<line x1="428.00" y1="368.10" x2="684.50" y2="368.10" stroke="#cccccc" stroke-width="1.1" />
<text x="400.49" y="371.10" font-size="8.75" fill="#262626" stroke="#262626" stroke-width="0.25" textLength="23.10" lengthAdjust="spacingAndGlyphs" >0.025</text>
<line x1="428.00" y1="338.92" x2="684.50" y2="338.92" stroke="#cccccc" stroke-width="1.1" />
<text x="400.31" y="341.92" font-size="8.75" fill="#262626" stroke="#262626" stroke-width="0.25" textLength="23.25" lengthAdjust="spacingAndGlyphs" >0.050</text>
<line x1="428.00" y1="309.74" x2="684.50" y2="309.74" stroke="#cccccc" stroke-width="1.1" />
<text x="400.49" y="312.74" font-size="8.75" fill="#262626" stroke="#262626" stroke-width="0.25" textLength="23.10" lengthAdjust="spacingAndGlyphs" >0.075</text>
<line x1="428.00" y1="280.56" x2="684.50" y2="280.56" stroke="#cccccc" stroke-width="1.1" />
<text x="400.31" y="283.56" font-size="8.75" fill="#262626" stroke="#262626" stroke-width="0.25" textLength="23.25" lengthAdjust="spacingAndGlyphs" >0.100</text>
<line x1="428.00" y1="251.38" x2="684.50" y2="251.38" stroke="#cccccc" stroke-width="1.1" />
<text x="400.49" y="254.38" font-size="8.75" fill="#262626" stroke="#262626" stroke-width="0.25" textLength="23.10" lengthAdjust="spacingAndGlyphs" >0.125</text>
<rect x="428" y="228.3" width="256.5" height="249.89999999999998" fill="none" stroke="#cccccc" stroke-width="1.25"/>
<g clip-path="url(#clipc)">
<circle cx="439.50" cy="289.80" r="1.95" fill="#1f6fb0"/>
<circle cx="441.10" cy="301.30" r="1.95" fill="#1f6fb0"/>
<circle cx="439.50" cy="330.10" r="1.95" fill="#1f6fb0"/>
<circle cx="483.75" cy="355.50" r="1.95" fill="#1f6fb0"/>
<circle cx="456.50" cy="390.80" r="1.95" fill="#1f6fb0"/>
<circle cx="454.50" cy="399.20" r="1.95" fill="#1f6fb0"/>
<circle cx="459.70" cy="398.50" r="1.95" fill="#1f6fb0"/>
<circle cx="463.30" cy="399.90" r="1.95" fill="#1f6fb0"/>
<circle cx="474.80" cy="391.50" r="1.95" fill="#1f6fb0"/>
<circle cx="478.30" cy="398.50" r="1.95" fill="#1f6fb0"/>
<circle cx="480.00" cy="401.20" r="1.95" fill="#1f6fb0"/>
<circle cx="490.70" cy="385.80" r="1.95" fill="#1f6fb0"/>
<circle cx="490.70" cy="399.30" r="1.95" fill="#1f6fb0"/>
<circle cx="497.00" cy="410.40" r="1.95" fill="#1f6fb0"/>
<circle cx="503.70" cy="394.70" r="1.95" fill="#1f6fb0"/>
<circle cx="544.40" cy="390.70" r="1.95" fill="#1f6fb0"/>
<circle cx="559.50" cy="399.60" r="1.95" fill="#1f6fb0"/>
<circle cx="603.50" cy="388.80" r="1.95" fill="#1f6fb0"/>
<circle cx="628.70" cy="380.00" r="1.95" fill="#1f6fb0"/>
<circle cx="632.30" cy="377.70" r="1.95" fill="#1f6fb0"/>
<circle cx="644.00" cy="393.25" r="1.95" fill="#1f6fb0"/>
<circle cx="635.75" cy="248.75" r="1.95" fill="#1f6fb0"/>
<circle cx="673.00" cy="309.50" r="1.95" fill="#1f6fb0"/>
<circle cx="445.00" cy="403.50" r="1.95" fill="#1f6fb0"/>
<circle cx="448.10" cy="403.30" r="1.95" fill="#1f6fb0"/>
<circle cx="446.50" cy="403.60" r="1.95" fill="#1f6fb0"/>
<circle cx="445.50" cy="397.50" r="1.95" fill="#1f6fb0"/>
<circle cx="2674.76" cy="185.60" r="1.95" fill="#1f6fb0"/>
<circle cx="1953.71" cy="228.40" r="1.95" fill="#1f6fb0"/>
<circle cx="2348.76" cy="374.60" r="1.95" fill="#1f6fb0"/>
<circle cx="1155.00" cy="406.66" r="1.95" fill="#1f6fb0"/>
<circle cx="439.50" cy="376.27" r="1.95" fill="#1f6fb0"/>
<circle cx="439.50" cy="378.02" r="1.95" fill="#1f6fb0"/>
<circle cx="439.50" cy="383.27" r="1.95" fill="#1f6fb0"/>
<circle cx="439.50" cy="387.24" r="1.95" fill="#1f6fb0"/>
<circle cx="439.50" cy="390.28" r="1.95" fill="#1f6fb0"/>
<circle cx="439.50" cy="392.61" r="1.95" fill="#1f6fb0"/>
<circle cx="439.50" cy="393.78" r="1.95" fill="#1f6fb0"/>
<circle cx="439.50" cy="394.95" r="1.95" fill="#1f6fb0"/>
<circle cx="439.50" cy="396.11" r="1.95" fill="#1f6fb0"/>
<circle cx="439.50" cy="397.28" r="1.95" fill="#1f6fb0"/>
<circle cx="439.50" cy="398.45" r="1.95" fill="#1f6fb0"/>
<circle cx="439.50" cy="399.61" r="1.95" fill="#1f6fb0"/>
<circle cx="439.50" cy="400.78" r="1.95" fill="#1f6fb0"/>
<circle cx="439.50" cy="401.95" r="1.95" fill="#1f6fb0"/>
<circle cx="439.50" cy="403.12" r="1.95" fill="#1f6fb0"/>
<circle cx="439.50" cy="404.28" r="1.95" fill="#1f6fb0"/>
<circle cx="439.50" cy="406.62" r="1.95" fill="#1f6fb0"/>
<circle cx="439.50" cy="407.43" r="1.95" fill="#1f6fb0"/>
<circle cx="439.50" cy="408.95" r="1.95" fill="#1f6fb0"/>
<circle cx="439.50" cy="411.29" r="1.95" fill="#1f6fb0"/>
<circle cx="439.50" cy="385.61" r="1.95" fill="#1f6fb0"/>
<circle cx="439.50" cy="380.94" r="1.95" fill="#1f6fb0"/>
<circle cx="441.39" cy="379.77" r="1.95" fill="#1f6fb0"/>
<circle cx="441.39" cy="389.11" r="1.95" fill="#1f6fb0"/>
<circle cx="441.39" cy="394.95" r="1.95" fill="#1f6fb0"/>
<circle cx="441.39" cy="398.45" r="1.95" fill="#1f6fb0"/>
<circle cx="441.39" cy="401.95" r="1.95" fill="#1f6fb0"/>
<circle cx="441.39" cy="405.45" r="1.95" fill="#1f6fb0"/>
<circle cx="441.39" cy="410.12" r="1.95" fill="#1f6fb0"/>
<circle cx="441.39" cy="384.44" r="1.95" fill="#1f6fb0"/>
<circle cx="439.50" cy="392.61" r="1.95" fill="#1f6fb0"/>
<circle cx="439.50" cy="403.12" r="1.95" fill="#1f6fb0"/>
<circle cx="439.50" cy="399.61" r="1.95" fill="#1f6fb0"/>
<path d="M439.50 281.90V297.70M436.60 281.90H442.40M436.60 297.70H442.40" stroke="rgba(0,0,0,0.48)" stroke-width="1" fill="none"/>
<path d="M441.10 291.30V311.10M438.20 291.30H444.00M438.20 311.10H444.00" stroke="rgba(0,0,0,0.48)" stroke-width="1" fill="none"/>
<path d="M439.50 309.30V338.50M436.60 309.30H442.40M436.60 338.50H442.40" stroke="rgba(0,0,0,0.48)" stroke-width="1" fill="none"/>
<path d="M483.75 351.50V359.30M480.85 351.50H486.65M480.85 359.30H486.65" stroke="rgba(0,0,0,0.48)" stroke-width="1" fill="none"/>
<path d="M456.50 388.00V393.50M453.60 388.00H459.40M453.60 393.50H459.40" stroke="rgba(0,0,0,0.48)" stroke-width="1" fill="none"/>
<path d="M454.50 394.50V403.50M451.60 394.50H457.40M451.60 403.50H457.40" stroke="rgba(0,0,0,0.48)" stroke-width="1" fill="none"/>
<path d="M459.70 395.00V402.00M456.80 395.00H462.60M456.80 402.00H462.60" stroke="rgba(0,0,0,0.48)" stroke-width="1" fill="none"/>
<path d="M463.30 383.50V416.20M460.40 383.50H466.20M460.40 416.20H466.20" stroke="rgba(0,0,0,0.48)" stroke-width="1" fill="none"/>
<path d="M474.80 376.50V406.30M471.90 376.50H477.70M471.90 406.30H477.70" stroke="rgba(0,0,0,0.48)" stroke-width="1" fill="none"/>
<path d="M478.30 392.00V405.00M475.40 392.00H481.20M475.40 405.00H481.20" stroke="rgba(0,0,0,0.48)" stroke-width="1" fill="none"/>
<path d="M480.00 391.00V418.50M477.10 391.00H482.90M477.10 418.50H482.90" stroke="rgba(0,0,0,0.48)" stroke-width="1" fill="none"/>
<path d="M490.70 371.60V400.00M487.80 371.60H493.60M487.80 400.00H493.60" stroke="rgba(0,0,0,0.48)" stroke-width="1" fill="none"/>
<path d="M490.70 393.50V404.60M487.80 393.50H493.60M487.80 404.60H493.60" stroke="rgba(0,0,0,0.48)" stroke-width="1" fill="none"/>
<path d="M497.00 354.50V466.75M494.10 354.50H499.90M494.10 466.75H499.90" stroke="rgba(0,0,0,0.48)" stroke-width="1" fill="none"/>
<path d="M503.70 383.50V406.40M500.80 383.50H506.60M500.80 406.40H506.60" stroke="rgba(0,0,0,0.48)" stroke-width="1" fill="none"/>
<path d="M544.40 387.80V393.50M541.50 387.80H547.30M541.50 393.50H547.30" stroke="rgba(0,0,0,0.48)" stroke-width="1" fill="none"/>
<path d="M559.50 391.80V407.50M556.60 391.80H562.40M556.60 407.50H562.40" stroke="rgba(0,0,0,0.48)" stroke-width="1" fill="none"/>
<path d="M603.50 380.30V397.25M600.60 380.30H606.40M600.60 397.25H606.40" stroke="rgba(0,0,0,0.48)" stroke-width="1" fill="none"/>
<path d="M628.70 370.00V389.50M625.80 370.00H631.60M625.80 389.50H631.60" stroke="rgba(0,0,0,0.48)" stroke-width="1" fill="none"/>
<path d="M632.30 370.30V385.30M629.40 370.30H635.20M629.40 385.30H635.20" stroke="rgba(0,0,0,0.48)" stroke-width="1" fill="none"/>
<path d="M644.00 362.50V424.00M641.10 362.50H646.90M641.10 424.00H646.90" stroke="rgba(0,0,0,0.48)" stroke-width="1" fill="none"/>
<path d="M635.75 239.50V257.75M632.85 239.50H638.65M632.85 257.75H638.65" stroke="rgba(0,0,0,0.48)" stroke-width="1" fill="none"/>
<path d="M673.00 308.60V310.40M670.10 308.60H675.90M670.10 310.40H675.90" stroke="rgba(0,0,0,0.48)" stroke-width="1" fill="none"/>
<path d="M445.00 379.40V426.80M442.10 379.40H447.90M442.10 426.80H447.90" stroke="rgba(0,0,0,0.48)" stroke-width="1" fill="none"/>
<path d="M448.10 365.50V441.30M445.20 365.50H451.00M445.20 441.30H451.00" stroke="rgba(0,0,0,0.48)" stroke-width="1" fill="none"/>
<path d="M446.50 398.00V409.00M443.60 398.00H449.40M443.60 409.00H449.40" stroke="rgba(0,0,0,0.48)" stroke-width="1" fill="none"/>
<path d="M445.50 392.00V403.00M442.60 392.00H448.40M442.60 403.00H448.40" stroke="rgba(0,0,0,0.48)" stroke-width="1" fill="none"/>
<path d="M2674.76 181.82V188.98M2671.86 181.82H2677.66M2671.86 188.98H2677.66" stroke="rgba(0,0,0,0.48)" stroke-width="1" fill="none"/>
<path d="M1953.71 223.00V233.80M1950.81 223.00H1956.61M1950.81 233.80H1956.61" stroke="rgba(0,0,0,0.48)" stroke-width="1" fill="none"/>
<path d="M2348.76 368.86V381.35M2345.86 368.86H2351.66M2345.86 381.35H2351.66" stroke="rgba(0,0,0,0.48)" stroke-width="1" fill="none"/>
<path d="M1155.00 323.64V489.01M1152.10 323.64H1157.90M1152.10 489.01H1157.90" stroke="rgba(0,0,0,0.48)" stroke-width="1" fill="none"/>
<path d="M439.50 355.51V397.03M436.60 355.51H442.40M436.60 397.03H442.40" stroke="rgba(0,0,0,0.48)" stroke-width="1" fill="none"/>
<path d="M439.50 355.38V400.66M436.60 355.38H442.40M436.60 400.66H442.40" stroke="rgba(0,0,0,0.48)" stroke-width="1" fill="none"/>
<path d="M439.50 354.25V412.29M436.60 354.25H442.40M436.60 412.29H442.40" stroke="rgba(0,0,0,0.48)" stroke-width="1" fill="none"/>
<path d="M439.50 366.25V408.23M436.60 366.25H442.40M436.60 408.23H442.40" stroke="rgba(0,0,0,0.48)" stroke-width="1" fill="none"/>
<path d="M439.50 368.55V412.01M436.60 368.55H442.40M436.60 412.01H442.40" stroke="rgba(0,0,0,0.48)" stroke-width="1" fill="none"/>
<path d="M439.50 369.49V415.73M436.60 369.49H442.40M436.60 415.73H442.40" stroke="rgba(0,0,0,0.48)" stroke-width="1" fill="none"/>
<path d="M439.50 377.71V409.85M436.60 377.71H442.40M436.60 409.85H442.40" stroke="rgba(0,0,0,0.48)" stroke-width="1" fill="none"/>
<path d="M439.50 373.14V416.75M436.60 373.14H442.40M436.60 416.75H442.40" stroke="rgba(0,0,0,0.48)" stroke-width="1" fill="none"/>
<path d="M439.50 372.25V419.98M436.60 372.25H442.40M436.60 419.98H442.40" stroke="rgba(0,0,0,0.48)" stroke-width="1" fill="none"/>
<path d="M439.50 370.56V424.00M436.60 370.56H442.40M436.60 424.00H442.40" stroke="rgba(0,0,0,0.48)" stroke-width="1" fill="none"/>
<path d="M439.50 383.96V412.93M436.60 383.96H442.40M436.60 412.93H442.40" stroke="rgba(0,0,0,0.48)" stroke-width="1" fill="none"/>
<path d="M439.50 381.46V417.77M436.60 381.46H442.40M436.60 417.77H442.40" stroke="rgba(0,0,0,0.48)" stroke-width="1" fill="none"/>
<path d="M439.50 386.35V415.21M436.60 386.35H442.40M436.60 415.21H442.40" stroke="rgba(0,0,0,0.48)" stroke-width="1" fill="none"/>
<path d="M439.50 374.93V428.96M436.60 374.93H442.40M436.60 428.96H442.40" stroke="rgba(0,0,0,0.48)" stroke-width="1" fill="none"/>
<path d="M439.50 378.14V428.10M436.60 378.14H442.40M436.60 428.10H442.40" stroke="rgba(0,0,0,0.48)" stroke-width="1" fill="none"/>
<path d="M439.50 390.71V417.86M436.60 390.71H442.40M436.60 417.86H442.40" stroke="rgba(0,0,0,0.48)" stroke-width="1" fill="none"/>
<path d="M439.50 376.58V436.65M436.60 376.58H442.40M436.60 436.65H442.40" stroke="rgba(0,0,0,0.48)" stroke-width="1" fill="none"/>
<path d="M439.50 377.70V437.16M436.60 377.70H442.40M436.60 437.16H442.40" stroke="rgba(0,0,0,0.48)" stroke-width="1" fill="none"/>
<path d="M439.50 384.66V433.24M436.60 384.66H442.40M436.60 433.24H442.40" stroke="rgba(0,0,0,0.48)" stroke-width="1" fill="none"/>
<path d="M439.50 387.67V434.90M436.60 387.67H442.40M436.60 434.90H442.40" stroke="rgba(0,0,0,0.48)" stroke-width="1" fill="none"/>
<path d="M439.50 370.01V401.20M436.60 370.01H442.40M436.60 401.20H442.40" stroke="rgba(0,0,0,0.48)" stroke-width="1" fill="none"/>
<path d="M439.50 367.84V394.04M436.60 367.84H442.40M436.60 394.04H442.40" stroke="rgba(0,0,0,0.48)" stroke-width="1" fill="none"/>
<path d="M441.39 361.80V397.74M438.49 361.80H444.29M438.49 397.74H444.29" stroke="rgba(0,0,0,0.48)" stroke-width="1" fill="none"/>
<path d="M441.39 378.80V399.42M438.49 378.80H444.29M438.49 399.42H444.29" stroke="rgba(0,0,0,0.48)" stroke-width="1" fill="none"/>
<path d="M441.39 382.50V407.39M438.49 382.50H444.29M438.49 407.39H444.29" stroke="rgba(0,0,0,0.48)" stroke-width="1" fill="none"/>
<path d="M441.39 385.16V411.74M438.49 385.16H444.29M438.49 411.74H444.29" stroke="rgba(0,0,0,0.48)" stroke-width="1" fill="none"/>
<path d="M441.39 392.12V411.78M438.49 392.12H444.29M438.49 411.78H444.29" stroke="rgba(0,0,0,0.48)" stroke-width="1" fill="none"/>
<path d="M441.39 388.53V422.37M438.49 388.53H444.29M438.49 422.37H444.29" stroke="rgba(0,0,0,0.48)" stroke-width="1" fill="none"/>
<path d="M441.39 393.58V426.66M438.49 393.58H444.29M438.49 426.66H444.29" stroke="rgba(0,0,0,0.48)" stroke-width="1" fill="none"/>
<path d="M441.39 361.34V407.54M438.49 361.34H444.29M438.49 407.54H444.29" stroke="rgba(0,0,0,0.48)" stroke-width="1" fill="none"/>
<path d="M439.50 352.93V457.97M436.60 352.93H442.40M436.60 457.97H442.40" stroke="rgba(0,0,0,0.48)" stroke-width="1" fill="none"/>
<path d="M439.50 338.92V452.14M436.60 338.92H442.40M436.60 452.14H442.40" stroke="rgba(0,0,0,0.48)" stroke-width="1" fill="none"/>
<path d="M439.50 362.26V448.64M436.60 362.26H442.40M436.60 448.64H442.40" stroke="rgba(0,0,0,0.48)" stroke-width="1" fill="none"/>
<line x1="428" y1="398.5" x2="685" y2="345.0" stroke="#1a1a1a" stroke-width="2.1" stroke-dasharray="7.6 3.6"/>
</g>
<text x="589.27" y="251.85" font-size="9.12" fill="#262626" stroke="#262626" stroke-width="0.25" textLength="43.75" lengthAdjust="spacingAndGlyphs" >10q25.1-8</text>
<text x="634.78" y="312.60" font-size="9.12" fill="#262626" stroke="#262626" stroke-width="0.25" textLength="35.09" lengthAdjust="spacingAndGlyphs" >22q12.1</text>
<text x="502.91" y="221.00" font-size="12.04" fill="#262626" stroke="#262626" stroke-width="0.25" textLength="109.11" lengthAdjust="spacingAndGlyphs" >R = 0.42, p = 2x10</text>
<text x="613.05" y="216.60" font-size="6.89" fill="#262626" stroke="#262626" stroke-width="0.25" textLength="7.09" lengthAdjust="spacingAndGlyphs" >-4</text>
<text x="462.44" y="507.50" font-size="11.87" fill="#262626" stroke="#262626" stroke-width="0.25" textLength="198.24" lengthAdjust="spacingAndGlyphs" >Brouha: in vitro activity as % L1RP</text>
<text x="388.20" y="428.83" font-size="11.73" fill="#262626" stroke="#262626" stroke-width="0.25" textLength="154.42" lengthAdjust="spacingAndGlyphs" transform="rotate(-90 388.20 428.83)" >Locus RNA fitted coefficient</text></svg>
</body></html>
